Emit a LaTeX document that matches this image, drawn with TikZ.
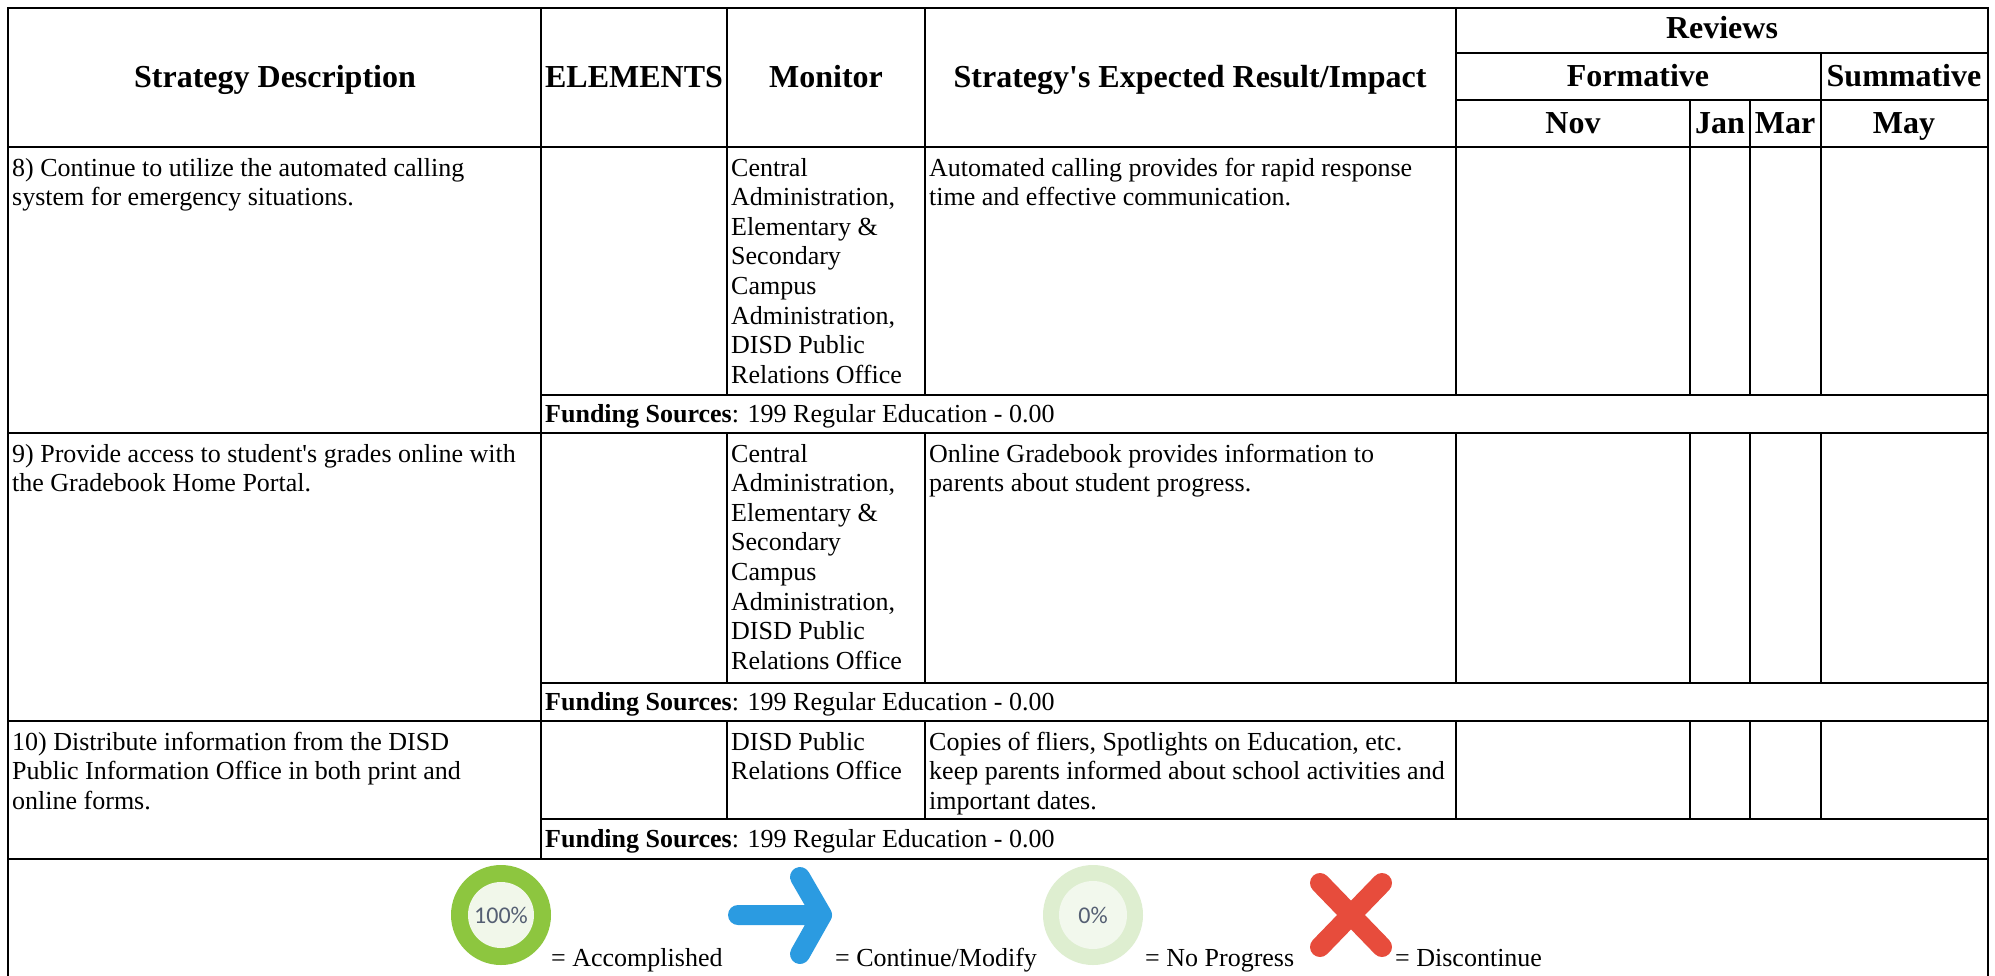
\documentclass[tikz,border=0pt]{standalone}
\usepackage{fontspec}
\setmainfont{Liberation Serif}
\newfontfamily\iconfont{Carlito}
\definecolor{accgreen}{RGB}{141,198,63}
\definecolor{accin}{RGB}{241,247,234}
\definecolor{arrowblue}{RGB}{43,155,225}
\definecolor{npout}{RGB}{222,238,208}
\definecolor{npin}{RGB}{242,248,237}
\definecolor{xred}{RGB}{231,76,60}
\definecolor{icongrey}{RGB}{85,95,115}
\newcommand\ctext[1]{\parbox[t]{600pt}{\raggedright #1}}
\newcommand\sq{\XeTeXglyph\XeTeXglyphindex "quotesingle"\relax}
\begin{document}
\begin{tikzpicture}[x=1pt,y=-1pt,
  grid/.style={line width=1.6pt, black, line cap=rect},
  body/.style={anchor=base west, inner sep=0pt, font=\rmfamily\mdseries\fontsize{26}{29.6}\selectfont},
  head/.style={anchor=base, inner sep=0pt, font=\rmfamily\fontsize{32}{36}\selectfont\bfseries},
  icontext/.style={inner sep=0pt, text=icongrey, font=\iconfont\fontsize{24}{26}\selectfont}]
\useasboundingbox (0,0) rectangle (1995,975);
\fill[white] (0,0) rectangle (1995,975);
% horizontal rules
\draw[grid] (8,8) -- (1988,8);
\draw[grid] (1456,53) -- (1988,53);
\draw[grid] (1456,100) -- (1988,100);
\draw[grid] (8,147) -- (1988,147);
\draw[grid] (541,395) -- (1988,395);
\draw[grid] (8,433) -- (1988,433);
\draw[grid] (541,683) -- (1988,683);
\draw[grid] (8,721) -- (1988,721);
\draw[grid] (541,819) -- (1988,819);
\draw[grid] (8,859) -- (1988,859);
% vertical rules
\draw[grid] (8,8) -- (8,980);
\draw[grid] (1988,8) -- (1988,980);
\draw[grid] (541,8) -- (541,859);
\foreach \x in {727,925,1456}{
  \draw[grid] (\x,8) -- (\x,147);
}
\foreach \x in {1690,1750}{
  \draw[grid] (\x,100) -- (\x,147);
}
\draw[grid] (1821,53) -- (1821,147);
\foreach \x in {727,925,1456,1690,1750,1821}{
  \draw[grid] (\x,147) -- (\x,395);
  \draw[grid] (\x,433) -- (\x,683);
  \draw[grid] (\x,721) -- (\x,819);
}
% header
\node[head] (hs) at (275,87) {Strategy Description};
\node[head] (he) at (634,87) {ELEMENTS};
\node[head] (hm) at (826,87) {Monitor};
\node[head] (hi) at (1190,87) {Strategy\sq s Expected Result/Impact};
\node[head] (hr) at (1722,38) {Reviews};
\node[head] (hf) at (1638,86) {Formative};
\node[head] (hsu) at (1904,86) {Summative};
\node[head] (hn) at (1573,133) {Nov};
\node[head] (hj) at (1720,133) {Jan};
\node[head] (hma) at (1785,133) {Mar};
\node[head] (hmy) at (1904,133) {May};
% row 8
\node[body] (s8) at (12,176) {\ctext{8) Continue to utilize the automated calling\\system for emergency situations.}};
\node[body] (m8) at (731,176) {\ctext{Central\\Administration,\\Elementary \&\\Secondary\\Campus\\Administration,\\DISD Public\\Relations Office}};
\node[body] (e8) at (929,176) {\ctext{Automated calling provides for rapid response\\time and effective communication.}};
\node[body] (f8) at (545,422) {\textbf{Funding Sources}: 199 Regular Education - 0.00};
% row 9
\node[body] (s9) at (12,462) {\ctext{9) Provide access to student\sq s grades online with\\the Gradebook Home Portal.}};
\node[body] (m9) at (731,462) {\ctext{Central\\Administration,\\Elementary \&\\Secondary\\Campus\\Administration,\\DISD Public\\Relations Office}};
\node[body] (e9) at (929,462) {\ctext{Online Gradebook provides information to\\parents about student progress.}};
\node[body] (f9) at (545,710) {\textbf{Funding Sources}: 199 Regular Education - 0.00};
% row 10
\node[body] (s10) at (12,750) {\ctext{10) Distribute information from the DISD\\Public Information Office in both print and\\online forms.}};
\node[body] (m10) at (731,750) {\ctext{DISD Public\\Relations Office}};
\node[body] (e10) at (929,750) {\ctext{Copies of fliers, Spotlights on Education, etc.\\keep parents informed about school activities and\\important dates.}};
\node[body] (f10) at (545,847) {\textbf{Funding Sources}: 199 Regular Education - 0.00};
% legend
\fill[accgreen] (501,915) circle[radius=50pt];
\fill[accin] (501,915) circle[radius=33pt];
\node[icontext] (p100) at (501,915) {100\%};
\node[body] (lacc) at (551,966) {= Accomplished};
\draw[arrowblue, line width=20pt, line cap=round, line join=round]
  (738,915) -- (822,915) (800,877) -- (822,915) -- (800,954);
\node[body] (lcon) at (835,966) {= Continue/Modify};
\fill[npout] (1093,915) circle[radius=50pt];
\fill[npin] (1093,915) circle[radius=34pt];
\node[icontext] (p0) at (1093,915) {0\%};
\node[body] (lnp) at (1145,966) {= No Progress};
\draw[xred, line width=20pt, line cap=round]
  (1320,883) -- (1382,947) (1382,883) -- (1320,947);
\node[body] (ldis) at (1395,966) {= Discontinue};
\end{tikzpicture}
\end{document}
